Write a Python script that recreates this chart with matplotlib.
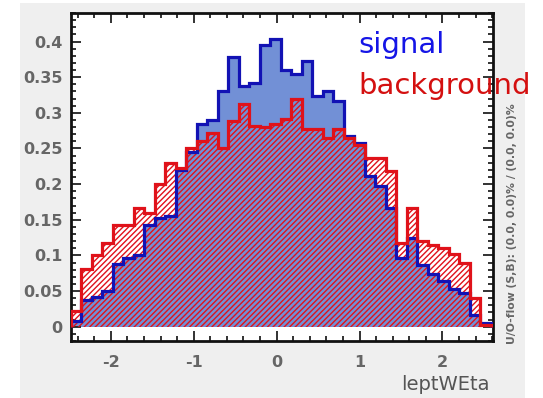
import numpy as np
import matplotlib.pyplot as plt
from matplotlib.patches import Rectangle
from matplotlib.ticker import MultipleLocator, FormatStrFormatter

# 40 bins of leptWEta
edges = np.linspace(-2.48, 2.58, 41)

signal = [0.008, 0.038, 0.042, 0.05, 0.088, 0.097, 0.10, 0.143, 0.153, 0.156,
          0.22, 0.245, 0.285, 0.29, 0.33, 0.378, 0.338, 0.342, 0.395, 0.404,
          0.36, 0.355, 0.372, 0.324, 0.331, 0.317, 0.268, 0.258, 0.212, 0.198,
          0.167, 0.097, 0.125, 0.086, 0.074, 0.064, 0.053, 0.048, 0.016, 0.005]

background = [0.022, 0.081, 0.10, 0.117, 0.142, 0.142, 0.167, 0.159, 0.20, 0.229,
              0.223, 0.25, 0.26, 0.272, 0.251, 0.289, 0.313, 0.282, 0.28, 0.285,
              0.292, 0.32, 0.278, 0.278, 0.264, 0.278, 0.264, 0.255, 0.237, 0.237,
              0.219, 0.118, 0.167, 0.12, 0.115, 0.111, 0.102, 0.09, 0.041, 0.003]

sig_fill = '#7290d6'
sig_line = '#1212b4'
bkg_line = '#e0121a'
txt_col = '#666666'

plt.rcParams['font.family'] = ['DejaVu Sans']
plt.rcParams['axes.unicode_minus'] = False
plt.rcParams['hatch.linewidth'] = 1.0

fig = plt.figure(figsize=(5.43, 3.98), dpi=100, facecolor='white')
fig.patches.append(Rectangle((20 / 543, 0), 505 / 543, 395 / 398,
                             transform=fig.transFigure, facecolor='#efefef',
                             edgecolor='none', zorder=-5))
ax = fig.add_axes([71 / 543, 1 - 341 / 398, 422 / 543, 328 / 398])
ax.set_zorder(2)
ax.set_facecolor('white')

ax.stairs(signal, edges, fill=True, facecolor=sig_fill, linewidth=0, zorder=1)
ax.stairs(background, edges, fill=True, facecolor='none', edgecolor=bkg_line,
          hatch='//////', linewidth=0, zorder=2)
ax.stairs(signal, edges, fill=False, color=sig_line, linewidth=2.3, zorder=3)
ax.stairs(background, edges, fill=False, color=bkg_line, linewidth=2.3, zorder=4)

ax.set_xlim(-2.48, 2.61)
ax.set_ylim(-0.02, 0.44)
ax.xaxis.set_major_locator(MultipleLocator(1))
ax.xaxis.set_minor_locator(MultipleLocator(0.2))
ax.yaxis.set_major_locator(MultipleLocator(0.05))
ax.yaxis.set_minor_locator(MultipleLocator(0.01))
ax.yaxis.set_major_formatter(FormatStrFormatter('%g'))
ax.set_yticks([0, 0.05, 0.1, 0.15, 0.2, 0.25, 0.3, 0.35, 0.4])

ax.tick_params(which='both', direction='in', top=True, right=True, width=1.3,
               color='#222222')
ax.tick_params(which='major', length=7)
ax.tick_params(which='minor', length=3.5)
ax.tick_params(axis='x', which='major', pad=10, labelcolor=txt_col)
ax.tick_params(axis='y', which='major', pad=6, labelcolor=txt_col)
for lab in ax.get_xticklabels() + ax.get_yticklabels():
    lab.set_fontsize(11.5)
    lab.set_fontweight('bold')
for sp in ax.spines.values():
    sp.set_linewidth(2)
    sp.set_color('#111111')

fig.text(490 / 543, 1 - 385 / 398, 'leptWEta', ha='right', va='center',
         fontsize=14, color='#555555')
fig.text(512 / 543, 1 - 224 / 398, 'U/O-flow (S,B): (0.0, 0.0)% / (0.0, 0.0)%',
         rotation=90, ha='center', va='center', fontsize=7.8, fontweight='bold',
         color='#666666')

fig.text(358 / 543, 1 - 45 / 398, 'signal', ha='left', va='center',
         fontsize=21, color='#1515e6', zorder=5)
fig.text(358 / 543, 1 - 86 / 398, 'background', ha='left', va='center',
         fontsize=21, color='#d41010', zorder=5)

fig.savefig('out.png', dpi=100)
